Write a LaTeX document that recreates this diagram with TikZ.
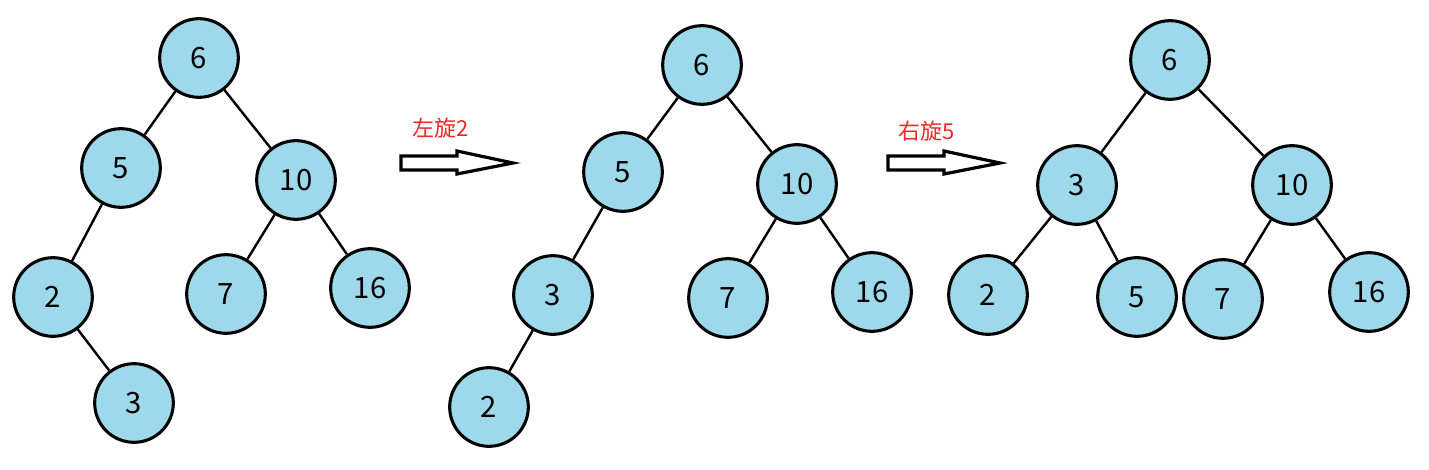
\documentclass[tikz,border=0pt]{standalone}
\usepackage{fontspec}
\setmainfont{Noto Sans CJK SC}
\definecolor{nodefill}{RGB}{157,217,234}
\definecolor{lblred}{RGB}{240,40,40}
\begin{document}
\begin{tikzpicture}[x=0.75pt,y=-0.75pt,
  tn/.style={circle,draw=black,line width=2.3pt,fill=nodefill,minimum size=59pt,inner sep=0pt,font=\fontsize{22}{24}\selectfont},
  edge/.style={line width=1.8pt},
  blk/.style={line width=2.4pt,fill=white,line join=miter},
  lbl/.style={text=lblred,font=\fontsize{16.5}{18}\selectfont}]
\useasboundingbox (0,0) rectangle (1429,470);
% tree 1
\node[tn] (a6) at (199,58) {6};
\node[tn] (a5) at (121,168) {5};
\node[tn] (a10) at (296,180) {10};
\node[tn] (a2) at (53,297) {2};
\node[tn] (a7) at (226,294) {7};
\node[tn] (a16) at (370,288) {16};
\node[tn] (a3) at (134,403) {3};
\draw[edge] (a6) -- (a5);
\draw[edge] (a6) -- (a10);
\draw[edge] (a5) -- (a2);
\draw[edge] (a2) -- (a3);
\draw[edge] (a10) -- (a7);
\draw[edge] (a10) -- (a16);
% tree 2
\node[tn] (b6) at (702,65) {6};
\node[tn] (b5) at (623,172) {5};
\node[tn] (b10) at (797,184) {10};
\node[tn] (b3) at (553,295) {3};
\node[tn] (b7) at (728,298) {7};
\node[tn] (b16) at (872,292) {16};
\node[tn] (b2) at (489,407) {2};
\draw[edge] (b6) -- (b5);
\draw[edge] (b6) -- (b10);
\draw[edge] (b5) -- (b3);
\draw[edge] (b3) -- (b2);
\draw[edge] (b10) -- (b7);
\draw[edge] (b10) -- (b16);
% tree 3
\node[tn] (c6) at (1170,60) {6};
\node[tn] (c3) at (1077,185) {3};
\node[tn] (c10) at (1292,185) {10};
\node[tn] (c2) at (988,295) {2};
\node[tn] (c5) at (1137,297) {5};
\node[tn] (c7) at (1223,299) {7};
\node[tn] (c16) at (1369,292) {16};
\draw[edge] (c6) -- (c3);
\draw[edge] (c6) -- (c10);
\draw[edge] (c3) -- (c2);
\draw[edge] (c3) -- (c5);
\draw[edge] (c10) -- (c7);
\draw[edge] (c10) -- (c16);
% block arrows
\draw[blk] (401,156) -- (457,156) -- (457,151) -- (513,163) -- (457,174) -- (457,170) -- (401,170) -- cycle;
\node[lbl] (l1) at (441,128) {左旋2};
\draw[blk] (888,156) -- (944,156) -- (944,151) -- (1000,163) -- (944,174) -- (944,170) -- (888,170) -- cycle;
\node[lbl] (l2) at (927,131) {右旋5};
\end{tikzpicture}
\end{document}
